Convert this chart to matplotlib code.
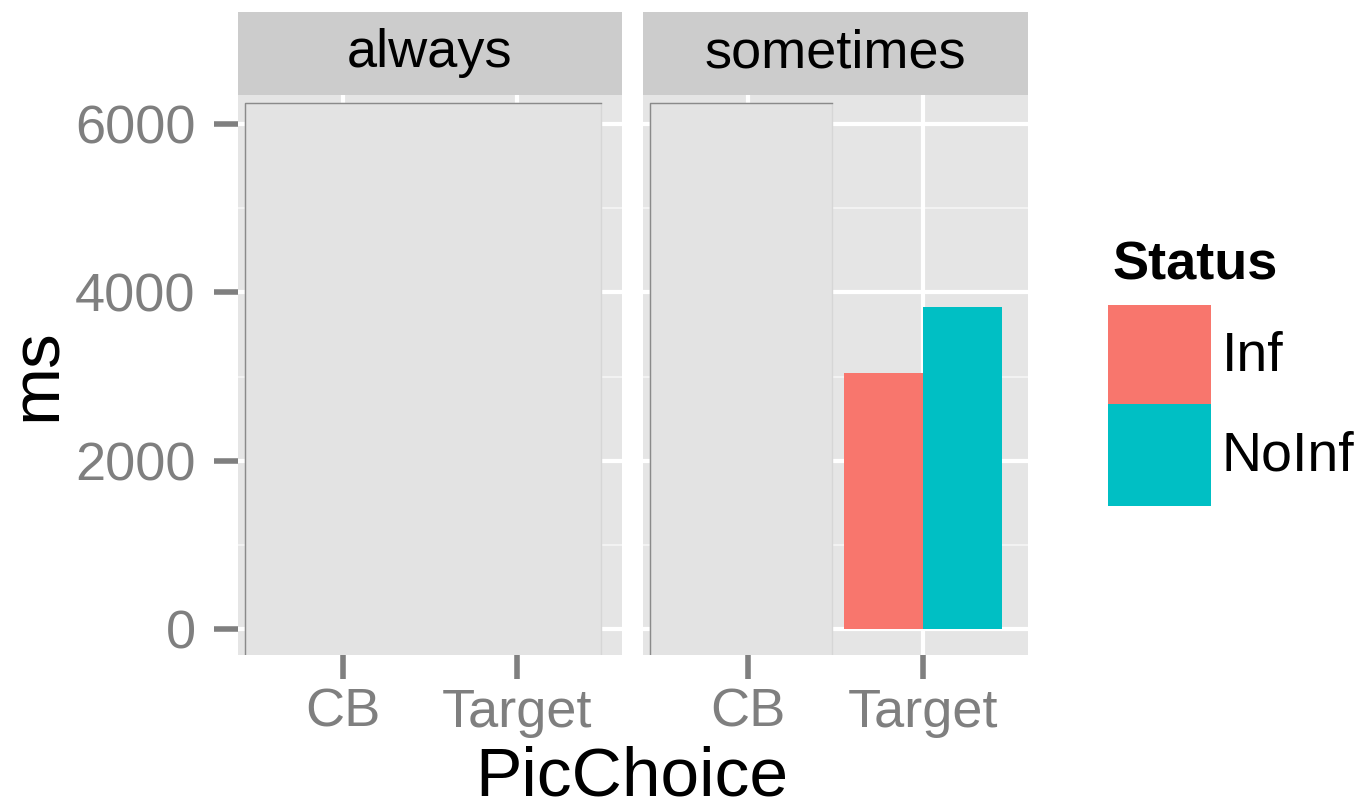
import matplotlib
matplotlib.use("Agg")
import matplotlib.pyplot as plt
import numpy as np

# data
panels = ["always", "sometimes"]
categories = ["CB", "Target"]
statuses = ["Inf", "NoInf"]
colors = ["#F8766D", "#00BFC4"]
# ms values per panel, per category, per status (None = nothing drawn)
values = {
    "always": {"CB": [None, None], "Target": [None, None]},
    "sometimes": {"CB": [None, None], "Target": [3040, 3825]},
}
# grey blocks hiding part of the panels: (x from, x to, height)
cover = {"always": (0.44, 2.48, 6250), "sometimes": (0.44, 1.48, 6250)}

W, H = 1361, 810
fig = plt.figure(figsize=(W / 100, H / 100), dpi=100)
plt.rcParams['font.family'] = ['Liberation Sans', 'DejaVu Sans']

def px(l, t, r, b):
    return [l / W, 1 - b / H, (r - l) / W, (b - t) / H]

panel_px = [(238, 95, 622, 655), (643, 95, 1028, 655)]
dodge = 0.9

for i, name in enumerate(panels):
    l, t, r, b = panel_px[i]
    ax = fig.add_axes(px(l, t, r, b))
    ax.set_facecolor("#E5E5E5")
    ax.set_xlim(0.4, 2.6)
    ax.set_ylim(-309, 6345)
    for y in [1000, 3000, 5000]:
        ax.axhline(y, color="#F2F2F2", lw=1.5, zorder=0)
    for y in [0, 2000, 4000, 6000]:
        ax.axhline(y, color="white", lw=3, zorder=0.5)
    for x in [1, 2]:
        ax.axvline(x, color="white", lw=3, zorder=0.5)

    w = dodge / len(statuses)
    for ci, cat in enumerate(categories):
        for si, v in enumerate(values[name][cat]):
            if v is None:
                continue
            xc = ci + 1 - dodge / 2 + w * (si + 0.5)
            ax.bar(xc, v, width=w, color=colors[si], zorder=2)

    x0, x1, top = cover[name]
    ax.bar((x0 + x1) / 2, top + 400, width=x1 - x0, bottom=-400,
           color="#E3E3E3", edgecolor="#D6D6D6", lw=1, zorder=3)
    ax.plot([x0, x0, x1], [-400, top, top], color="#8A8A8A", lw=1, zorder=4)

    for s in ax.spines.values():
        s.set_visible(False)
    ax.set_xticks([1, 2])
    ax.set_xticklabels(categories)
    ax.tick_params(axis="both", colors="#7F7F7F", length=17.5, width=4,
                   labelcolor="#7F7F7F", labelsize=39)
    ax.tick_params(axis="x", pad=6)
    ax.set_yticks([0, 2000, 4000, 6000])
    if i == 0:
        ax.set_yticklabels(["0", "2000", "4000", "6000"])
        ax.tick_params(axis="y", pad=13)
    else:
        ax.tick_params(axis="y", left=False, labelleft=False)

    sax = fig.add_axes(px(l, 12, r, 95))
    sax.set_facecolor("#CCCCCC")
    sax.set_xticks([])
    sax.set_yticks([])
    for s in sax.spines.values():
        s.set_visible(False)
    sax.text(0.5, 0.5, name, ha="center", va="center", fontsize=39,
             color="black", transform=sax.transAxes)

fig.text(632 / W, 1 - 778 / H, "PicChoice", ha="center", va="center", fontsize=50)
fig.text(38 / W, 1 - 375 / H, "ms", ha="center", va="center", fontsize=50, rotation=90)

# legend
fig.text(1112 / W, 1 - 265 / H, "Status", ha="left", va="center",
         fontsize=39, fontweight="bold")
key_top = [305, 404]
for k, st in enumerate(statuses):
    kax = fig.add_axes(px(1108, key_top[k], 1211, key_top[k] + 102))
    kax.set_facecolor(colors[k])
    kax.set_xticks([])
    kax.set_yticks([])
    for s in kax.spines.values():
        s.set_visible(False)
    fig.text(1222 / W, 1 - (key_top[k] + 52) / H, st, ha="left", va="center",
             fontsize=40)

fig.savefig("out.png", dpi=100)
